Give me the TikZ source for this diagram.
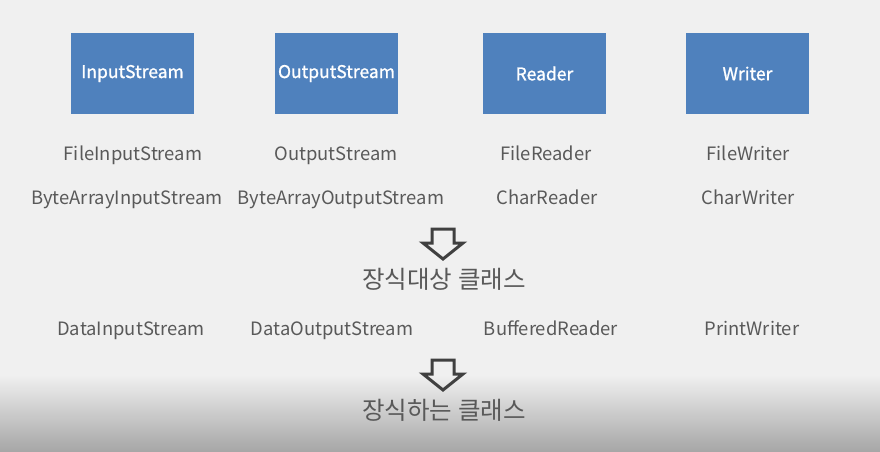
\documentclass[tikz,border=0pt]{standalone}
\usepackage{fontspec}
\setmainfont{Noto Sans CJK KR}
\newfontfamily\boxfont[FakeBold=1.2]{Noto Sans CJK KR}
\usetikzlibrary{positioning}
\definecolor{bgray}{HTML}{F0F0F0}
\definecolor{boxblue}{HTML}{4F81BD}
\definecolor{txtgray}{HTML}{595959}
\definecolor{arrgray}{HTML}{404040}

\begin{document}
\begin{tikzpicture}
    [x=1pt,y=-1pt,
     classbox/.style={fill=boxblue,text=white,minimum width=123pt,minimum height=81pt,
       inner sep=0pt,font=\boxfont\fontsize{17.5}{21}\selectfont},
     classname/.style={text=txtgray,inner sep=0pt,text height=0.75em,text depth=0.22em,
       font=\fontsize{18.4}{22}\selectfont},
     caption/.style={text=txtgray,inner sep=0pt,font=\fontsize{24.5}{29}\selectfont},
     hollowdown/.style={draw=arrgray,line width=3pt,line join=miter}]
    % background with dark band at the bottom
    \fill[bgray] (0,0) rectangle (880,452);
    \shade[top color=bgray,bottom color=black!35] (0,375) rectangle (880,452);
    \useasboundingbox (0,0) rectangle (880,452);

    % base classes
    \node[classbox] (in)  at (132.5,73.5) {InputStream};
    \node[classbox] (out) at (336.5,73.5) {OutputStream};
    \node[classbox] (rd)  at (544.5,73.5) {Reader};
    \node[classbox] (wr)  at (747.5,73.5) {Writer};

    % target classes
    \node[classname] (fis)  at (133,158) {FileInputStream};
    \node[classname] (bais) at (127,202) {ByteArrayInputStream};
    \node[classname] (os)   at (336,158) {OutputStream};
    \node[classname] (baos) at (341,202) {ByteArrayOutputStream};
    \node[classname] (fr)   at (546,158) {FileReader};
    \node[classname] (cr)   at (547,202) {CharReader};
    \node[classname] (fw)   at (748,158) {FileWriter};
    \node[classname] (cw)   at (748,202) {CharWriter};

    \coordinate (a1) at (443,229);
    \draw[hollowdown] (a1) ++(-11,0) -- ++(22,0) -- ++(0,14) -- ++(9,0)
      -- ++(-20,16) -- ++(-20,-16) -- ++(9,0) -- cycle;
    \node[caption] (target) at (444,279) {장식대상 클래스};

    % decorator classes
    \node[classname] (dis) at (131,333) {DataInputStream};
    \node[classname] (dos) at (332,333) {DataOutputStream};
    \node[classname] (br)  at (551,333) {BufferedReader};
    \node[classname] (pw)  at (752,333) {PrintWriter};

    \coordinate (a2) at (443,360);
    \draw[hollowdown] (a2) ++(-11,0) -- ++(22,0) -- ++(0,14) -- ++(9,0)
      -- ++(-20,16) -- ++(-20,-16) -- ++(9,0) -- cycle;
    \node[caption] (deco) at (444,410) {장식하는 클래스};
\end{tikzpicture}
\end{document}
